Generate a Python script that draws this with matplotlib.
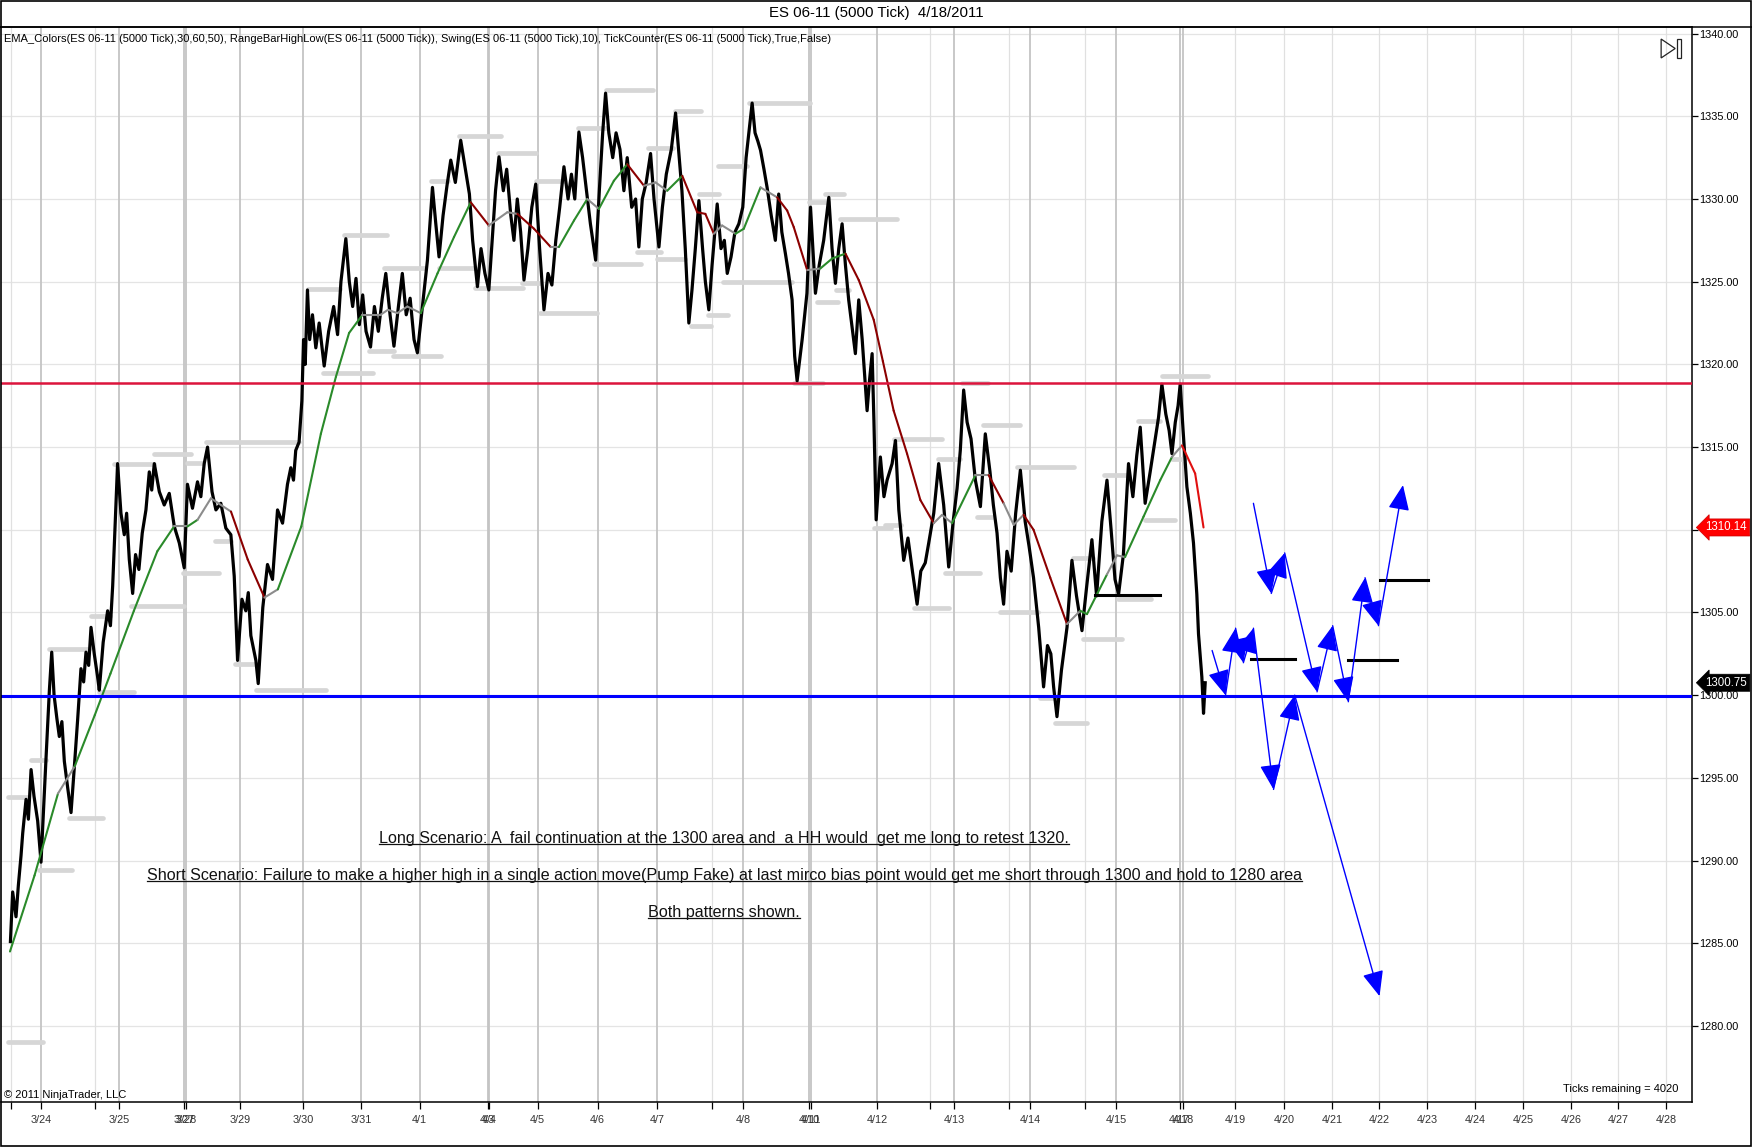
import matplotlib
matplotlib.use('Agg')
import matplotlib.pyplot as plt
from matplotlib.lines import Line2D
from matplotlib.patches import Polygon, Rectangle

plt.rcParams['font.family'] = ['Liberation Sans', 'DejaVu Sans']

# ---- price path (tick chart) ----
price_x = [8.4, 10.4, 13.4, 15.5, 17.9, 19.4, 22.4, 24.5, 26.9, 29.5, 32.8, 35.8, 38.0, 40.3, 43.3, 45.4,
           47.5, 50.0, 52.2, 54.5, 56.7, 59.7, 62.7, 65.6, 68.6, 71.6, 74.0, 76.1, 78.5, 80.6, 83.5, 86.5,
           88.0, 91.5, 95.5, 98.0, 100.0, 103.0, 104.4, 107.4, 110.4, 112.5, 114.9, 117.9, 120.5, 123.5,
           126.5, 129.8, 132.8, 135.0, 137.3, 141.8, 146.2, 150.7, 155.2, 159.7, 164.1, 167.0, 171.5,
           176.0, 179.0, 182.0, 185.0, 189.0, 192.5, 196.9, 201.4, 205.9, 208.9, 211.9, 215.8, 219.3,
           221.5, 223.8, 228.3, 230.4, 234.5, 238.7, 243.2, 247.7, 252.2, 256.6, 259.6, 262.0, 264.0,
           267.0, 269.5, 271.0, 272.5, 274.5, 276.5, 279.0, 282.0, 285.0, 289.5, 293.5, 298.0, 301.5,
           304.5, 308.9, 312.0, 315.0, 318.0, 321.0, 324.0, 327.0, 331.0, 334.5, 338.0, 341.5, 344.7,
           348.5, 352.0, 356.0, 359.5, 363.0, 366.5, 370.0, 373.0, 377.5, 382.0, 386.5, 389.5, 392.4,
           396.0, 399.5, 402.9, 407.0, 411.8, 415.5, 419.6, 422.5, 426.8, 430.0, 433.5, 437.0, 440.5,
           443.0, 446.1, 450.0, 453.0, 456.7, 459.5, 462.5, 465.5, 468.5, 472.0, 475.5, 479.0, 482.5,
           486.4, 490.0, 493.5, 497.0, 500.5, 504.3, 508.0, 511.0, 514.0, 517.7, 521.0, 524.5, 528.0,
           532.7, 536.0, 539.0, 541.6, 544.5, 548.0, 551.0, 554.5, 558.0, 561.0, 565.0, 568.5, 571.4,
           574.5, 578.0, 581.9, 585.0, 589.4, 592.5, 596.0, 600.5, 604.3, 607.0, 610.0, 613.0, 616.2,
           619.0, 622.0, 625.2, 628.5, 631.0, 634.1, 637.0, 641.6, 645.0, 648.0, 650.6, 654.0, 657.5,
           661.0, 664.5, 667.5, 670.0, 672.9, 675.5, 678.0, 680.4, 683.5, 686.3, 690.0, 693.7, 696.7,
           699.5, 702.7, 705.5, 708.7, 711.0, 713.2, 717.7, 722.0, 725.2, 729.6, 733.0, 737.0, 741.6,
           744.5, 747.5, 750.5, 753.5, 756.5, 759.4, 762.4, 765.4, 768.4, 771.5, 775.9, 778.0, 780.4,
           782.0, 784.0, 787.8, 791.0, 793.8, 798.3, 801.3, 804.3, 808.7, 812.5, 816.5, 820.7, 824.0,
           828.0, 831.1, 835.6, 840.0, 844.5, 849.0, 853.0, 856.5, 859.4, 862.4, 865.5, 869.0, 872.9,
           877.4, 881.8, 886.0, 889.0, 892.3, 895.3, 898.2, 901.2, 905.0, 909.0, 913.2, 917.5, 921.0,
           925.0, 929.6, 934.0, 937.5, 940.5, 943.0, 946.0, 950.0, 955.0, 959.4, 963.5, 968.4, 972.5,
           977.3, 981.5, 986.2, 990.8, 994.5, 998.0, 1001.2, 1005.5, 1010.1, 1014.0, 1017.5, 1020.6,
           1025.0, 1029.5, 1034.0, 1037.0, 1040.0, 1043.5, 1046.5, 1049.0, 1052.0, 1054.5, 1056.4,
           1059.0, 1062.4, 1065.5, 1068.3, 1071.3, 1072.8, 1075.8, 1077.3, 1078.8]
price_y = [1285.1, 1288.1, 1286.6, 1288.5, 1290.3, 1291.65, 1293.7, 1292.5, 1295.5, 1293.9, 1292.4, 1289.9,
           1293.0, 1296.2, 1300.3, 1302.6, 1300.0, 1298.6, 1297.5, 1298.4, 1296.0, 1294.4, 1292.9, 1295.6,
           1298.5, 1301.6, 1300.8, 1302.6, 1301.8, 1304.1, 1302.5, 1301.1, 1300.3, 1303.2, 1305.1, 1304.2,
           1306.6, 1311.7, 1314.0, 1311.0, 1309.7, 1311.0, 1308.2, 1306.15, 1308.5, 1307.6, 1309.8, 1311.2,
           1313.5, 1312.4, 1314.0, 1312.3, 1311.5, 1312.2, 1310.2, 1309.2, 1307.7, 1312.75, 1311.3, 1312.9,
           1312.0, 1314.0, 1315.0, 1312.3, 1311.2, 1311.6, 1310.1, 1309.7, 1307.2, 1302.1, 1305.8, 1305.1,
           1306.2, 1303.6, 1302.1, 1300.7, 1305.3, 1307.9, 1307.0, 1311.2, 1310.4, 1312.75, 1313.75, 1313.0,
           1314.8, 1315.3, 1317.8, 1321.5, 1320.0, 1324.5, 1321.5, 1323.0, 1321.0, 1322.5, 1319.9, 1322.0,
           1323.5, 1321.8, 1325.0, 1327.6, 1325.0, 1323.5, 1325.2, 1322.4, 1324.2, 1322.0, 1321.05, 1323.5,
           1322.0, 1324.0, 1325.5, 1323.0, 1321.1, 1323.5, 1325.5, 1323.0, 1324.0, 1321.5, 1320.7, 1323.5,
           1326.3, 1330.7, 1328.5, 1326.5, 1329.0, 1330.8, 1332.35, 1331.0, 1333.55, 1332.0, 1330.3, 1327.5,
           1324.7, 1327.0, 1325.5, 1324.5, 1328.0, 1330.5, 1332.55, 1330.5, 1331.8, 1329.0, 1327.5, 1330.0,
           1328.0, 1325.1, 1327.0, 1329.5, 1330.9, 1327.0, 1323.3, 1325.5, 1324.8, 1327.5, 1329.5, 1331.95,
           1330.0, 1331.5, 1330.0, 1334.05, 1332.5, 1330.5, 1328.5, 1326.3, 1330.5, 1334.0, 1336.4, 1334.0,
           1332.5, 1334.0, 1333.0, 1330.5, 1332.5, 1329.5, 1330.0, 1327.1, 1330.0, 1331.0, 1332.75, 1330.0,
           1327.1, 1329.5, 1331.5, 1333.0, 1335.2, 1333.0, 1330.5, 1327.0, 1322.5, 1324.5, 1327.0, 1329.9,
           1327.0, 1325.0, 1323.3, 1326.0, 1329.7, 1327.0, 1327.5, 1325.5, 1326.5, 1328.0, 1328.5, 1329.5,
           1332.5, 1334.0, 1335.8, 1334.0, 1333.5, 1332.95, 1331.8, 1330.7, 1329.0, 1327.5, 1330.3, 1328.0,
           1326.7, 1325.5, 1323.9, 1320.5, 1319.0, 1321.5, 1324.3, 1329.5, 1324.3, 1326.0, 1327.5, 1330.1,
           1327.0, 1324.9, 1327.0, 1328.5, 1326.0, 1323.9, 1322.3, 1320.65, 1323.9, 1321.5, 1317.2, 1319.0,
           1320.65, 1316.6, 1310.6, 1314.4, 1312.0, 1313.0, 1314.0, 1315.4, 1311.2, 1308.15, 1309.5, 1307.5,
           1305.5, 1307.5, 1308.0, 1309.2, 1311.0, 1314.0, 1311.5, 1307.75, 1310.5, 1312.5, 1314.8, 1318.45,
           1316.5, 1315.5, 1313.0, 1311.4, 1315.8, 1313.5, 1311.5, 1309.8, 1307.1, 1305.5, 1308.7, 1307.5,
           1311.0, 1313.6, 1310.5, 1309.0, 1307.1, 1304.1, 1300.5, 1303.0, 1302.5, 1300.5, 1298.7, 1301.5,
           1304.1, 1308.15, 1306.0, 1303.9, 1306.5, 1309.4, 1306.0, 1310.5, 1313.0, 1310.0, 1307.0, 1306.1,
           1308.5, 1314.0, 1312.0, 1314.5, 1316.2, 1311.6, 1313.5, 1315.5, 1316.8, 1318.8, 1317.0, 1316.0,
           1314.6, 1316.5, 1317.5, 1318.8, 1316.0, 1312.6, 1311.0, 1309.2, 1306.1, 1303.7, 1301.1, 1298.9,
           1300.75]

# ---- EMA_Colors line: G rising, R falling, N neutral (gray), B last bright red ----
ema_x = [8, 30, 51, 66, 84, 98, 119, 140, 155, 167, 176, 188, 206, 221, 236, 248, 269, 286.5, 300, 311.8,
         323.8, 340, 346.6, 355, 364, 376, 391, 405.8, 420.8, 437, 453.6, 462.6, 477.5, 492.4, 499.8, 513.3,
         525.2, 535.6, 549, 561, 576, 586.4, 596.8, 610.3, 623.7, 631, 638.6, 646, 658, 665.4, 680.4,
         695.3, 704.3, 710.2, 722.2, 734, 744.6, 756.5, 768.4, 781.8, 790, 799.7, 811.7, 823.6, 835.6,
         843, 852, 872.9, 884.8, 898.2, 907.2, 916.1, 925, 940, 955, 966.9, 972.9, 990.8, 999.7, 1007,
         1023.6, 1038.5, 1049, 1058, 1069.8, 1077.3]
ema_y = [1284.5, 1289.1, 1294.05, 1295.7, 1298.8, 1301.3, 1305.1, 1308.7, 1310.2, 1310.2, 1310.6, 1311.9,
         1311.1, 1308.2, 1305.9, 1306.4, 1310.2, 1315.8, 1319.25, 1321.9, 1323.0, 1323.0, 1323.3, 1323.1,
         1323.5, 1323.1, 1325.5, 1327.7, 1329.8, 1328.4, 1329.2, 1329.1, 1328.2, 1327.1, 1327.1, 1328.7,
         1330.0, 1329.4, 1331.1, 1332.1, 1330.8, 1331.0, 1330.5, 1331.4, 1329.2, 1329.1, 1327.9, 1328.4,
         1327.9, 1328.2, 1330.7, 1330.1, 1329.3, 1328.3, 1325.7, 1325.8, 1326.4, 1326.7, 1325.1, 1322.7,
         1320.2, 1317.2, 1314.6, 1311.8, 1310.4, 1310.9, 1310.4, 1313.3, 1313.3, 1311.6, 1310.3, 1310.9,
         1310.0, 1307.1, 1304.3, 1305.1, 1304.9, 1307.3, 1308.45, 1308.35, 1310.8, 1313.0, 1314.4, 1315.1,
         1313.4, 1310.14]
ema_c = ['G', 'G', 'N', 'G', 'G', 'G', 'G', 'G', 'N', 'G', 'N', 'N', 'R', 'R', 'N', 'G', 'G', 'G', 'G', 'G',
         'N', 'N', 'N', 'N', 'N', 'G', 'G', 'G', 'R', 'N', 'N', 'R', 'R', 'N', 'G', 'G',
         'N', 'G', 'G', 'R', 'N', 'N', 'G', 'R', 'R', 'R', 'N', 'N', 'G', 'G', 'N',
         'R', 'R', 'R', 'N', 'G', 'G', 'R', 'R', 'R', 'R', 'R', 'R', 'R', 'N',
         'N', 'G', 'N', 'R', 'N', 'N', 'R', 'R', 'R', 'N', 'G', 'G', 'N', 'N', 'G',
         'G', 'G', 'N', 'B', 'B']
ema_palette = {'G': '#2a8a2a', 'R': '#8b0000', 'N': '#8c8c8c', 'B': '#e01010'}

# ---- RangeBarHighLow / swing levels (x start, x end, price) ----
swing_x0 = [6, 27, 34, 6, 43, 61, 81, 88, 101, 116, 137, 163, 167, 184, 192, 210, 228,
            275, 288, 307, 330, 343, 351, 385, 392, 410, 425, 445, 467, 479, 483, 517, 531, 542, 570, 580,
            588, 604, 618, 625, 633, 642, 647, 670, 724, 738, 752, 731, 748, 710, 861,
            782, 792, 800, 818, 839, 846, 874, 880, 895, 910, 931, 944, 960, 969, 988, 1001, 1019, 1025,
            1040, 1049]
swing_x1 = [24, 40, 64, 38, 79, 91, 98, 119, 137, 164, 170, 195, 181, 267, 206, 230, 291,
            304, 333, 346, 352, 380, 394, 400, 425, 448, 468, 479, 483, 504, 534, 542, 573, 584, 591, 602,
            613, 627, 636, 643, 651, 668, 709, 725, 741, 755, 803, 750, 760, 736, 884,
            797, 806, 843, 849, 859, 877, 889, 913, 929, 961, 946, 973, 978, 1004, 1010, 1030, 1038, 1052,
            1081, 1061]
swing_p = [1293.85, 1296.1, 1289.4, 1279.05, 1302.8, 1292.6, 1304.8, 1300.2, 1314.0, 1305.4, 1314.6,
           1307.4, 1314.05, 1315.3, 1309.3, 1301.9, 1300.3,
           1324.55, 1319.5, 1327.8, 1320.8, 1325.8, 1320.5, 1331.1, 1325.8, 1333.8, 1324.6, 1332.8, 1324.9,
           1331.1, 1323.1, 1334.3, 1326.1, 1336.6, 1326.8, 1333.1, 1326.35, 1335.3, 1322.3, 1330.3, 1323.0,
           1332.0, 1325.0, 1335.8, 1329.8, 1330.3, 1328.8, 1323.8, 1324.5, 1318.9, 1318.85,
           1310.1, 1310.3, 1315.5, 1305.3, 1314.3, 1307.4, 1310.8, 1316.35, 1305.0, 1313.8, 1299.8, 1298.3,
           1308.3, 1303.4, 1313.3, 1305.8, 1316.55, 1310.6, 1319.3, 1314.3]

# black drawn levels
level_x0 = [980, 1120, 1207, 1235]
level_x1 = [1038, 1159, 1251, 1278]
level_p = [1306.05, 1302.2, 1302.15, 1306.96]

# projected scenarios (blue arrows)
long_x = [1122, 1138, 1150, 1179, 1193, 1207, 1222, 1234, 1256]
long_p = [1311.6, 1306.15, 1308.6, 1300.2, 1304.2, 1299.6, 1307.1, 1304.2, 1312.7]
short_x = [1085, 1097, 1106, 1113, 1122, 1140, 1159, 1235]
short_p = [1302.7, 1300.0, 1304.05, 1301.96, 1304.05, 1294.3, 1300.0, 1281.8]

resistance = 1318.85
support = 1299.95
ema_last = 1310.14
last_price = 1300.75

tick_x = [9, 35.8, 84, 105.6, 163.8, 165.6, 214, 270.4, 322.7, 375, 436, 437, 480.8, 534.5, 588, 636.5,
          665, 724, 726, 785, 832.6, 854, 903, 922, 971, 999, 1056, 1059, 1105.6, 1149.5, 1192.5, 1234.5,
          1277.5, 1320.5, 1363.5, 1406.4, 1448.5, 1491.5]
tick_lab = ['', '3/24', '', '3/25', '3/27', '3/28', '3/29', '3/30', '3/31', '4/1', '4/3', '4/4', '4/5',
            '4/6', '4/7', '', '4/8', '4/10', '4/11', '4/12', '', '4/13', '', '4/14', '', '4/15', '4/17',
            '4/18', '4/19', '4/20', '4/21', '4/22', '4/23', '4/24', '4/25', '4/26', '4/27', '4/28']
price_ticks = [1280, 1285, 1290, 1295, 1300, 1305, 1310, 1315, 1320, 1325, 1330, 1335, 1340]

notes = ['Long Scenario: A  fail continuation at the 1300 area and  a HH would  get me long to retest 1320.',
         'Short Scenario: Failure to make a higher high in a single action move(Pump Fake) at last mirco '
         'bias point would get me short through 1300 and hold to 1280 area',
         'Both patterns shown.']
notes_p = [1291.35, 1289.1, 1286.85]

fig = plt.figure(figsize=(17.52, 11.47), dpi=100)
ax = fig.add_axes([0.0006, 0.03923, 0.9652, 0.93723])
ax.set_xlim(0, 1515)
ax.set_ylim(1275.4, 1340.4)

# grid
for p in price_ticks:
    ax.axhline(p, color='#e4e4e4', lw=0.9, zorder=0)
future = tick_lab.index('4/19')
for i, (x, lab) in enumerate(zip(tick_x, tick_lab)):
    if lab == '' or i >= future:
        ax.axvline(x, color='#e0e0e0', lw=0.9, zorder=0)
    else:
        ax.axvline(x, color='#c4c4c4', lw=1.3, zorder=0)

# swing levels
for a, b, p in zip(swing_x0, swing_x1, swing_p):
    ax.plot([a, b], [p, p], color='#d6d6d6', lw=3.4, solid_capstyle='round', zorder=1)

# price
ax.plot(price_x, price_y, color='black', lw=2.3, zorder=3)

# EMA
for i in range(len(ema_x) - 1):
    ax.plot(ema_x[i:i + 2], ema_y[i:i + 2], color=ema_palette[ema_c[i]], lw=1.5,
            solid_capstyle='round', zorder=4)

# horizontal lines
ax.axhline(resistance, color='#dc143c', lw=1.8, zorder=5)
ax.axhline(support, color='#0000ff', lw=2.2, zorder=5)

for a, b, p in zip(level_x0, level_x1, level_p):
    ax.plot([a, b], [p, p], color='black', lw=2.2, zorder=5)

# arrows
for xs, ps in [(long_x, long_p), (short_x, short_p)]:
    for i in range(len(xs) - 1):
        ax.annotate('', xy=(xs[i + 1], ps[i + 1]), xytext=(xs[i], ps[i]),
                    arrowprops=dict(arrowstyle='-|>,head_length=1.3,head_width=0.55', color='#0000ff',
                                    lw=1.0, shrinkA=0, shrinkB=0, mutation_scale=12), zorder=6)

# notes
note_txt = []
for s, p in zip(notes, notes_p):
    note_txt.append(ax.text(648, p, s, ha='center', va='center', fontsize=11.6, color='#111111', zorder=7))

# axes styling
ax.spines['left'].set_visible(False)
for side in ['top', 'right', 'bottom']:
    ax.spines[side].set_linewidth(1.1)
ax.yaxis.tick_right()
ax.set_yticks(price_ticks)
# the 1310 label sits under the EMA price flag, so it is left blank
ax.set_yticklabels(['' if abs(p - ema_last) < 1 else '%.2f' % p for p in price_ticks])
ax.tick_params(axis='y', direction='out', length=4, width=0.9, labelsize=7.8, pad=1, colors='black')
ax.set_xticks(tick_x)
ax.set_xticklabels(tick_lab)
ax.tick_params(axis='x', direction='out', length=5, width=0.9, labelsize=7.8, pad=4, labelcolor='#333333')

# header / footer texts
fig.text(0.5, 0.9883, 'ES 06-11 (5000 Tick)  4/18/2011', ha='center', va='center', fontsize=10.8)
ax.text(0.002, 0.9888, 'EMA_Colors(ES 06-11 (5000 Tick),30,60,50), RangeBarHighLow(ES 06-11 (5000 Tick)), '
        'Swing(ES 06-11 (5000 Tick),10), TickCounter(ES 06-11 (5000 Tick),True,False)',
        transform=ax.transAxes, ha='left', va='center', fontsize=8.0)
ax.text(0.002, 0.0065, '\u00a9 2011 NinjaTrader, LLC', transform=ax.transAxes, ha='left', va='center',
        fontsize=8.0)
ax.text(0.992, 0.012, 'Ticks remaining = 4020', transform=ax.transAxes, ha='right', va='center',
        fontsize=8.0)

# price flags on the axis
ax.text(1.008, ema_last, '%.2f' % ema_last, transform=ax.get_yaxis_transform(), ha='left', va='center',
        fontsize=8.3, color='white', clip_on=False, zorder=10,
        bbox=dict(boxstyle='larrow,pad=0.22', fc='#ff0000', ec='#cc0000', lw=0.5))
ax.text(1.008, last_price, '%.2f' % last_price, transform=ax.get_yaxis_transform(), ha='left',
        va='center', fontsize=8.3, color='white', clip_on=False, zorder=10,
        bbox=dict(boxstyle='larrow,pad=0.22', fc='black', ec='black', lw=0.5))

# play-to-end icon
ax.add_patch(Polygon([(0.9817, 0.9888), (0.9817, 0.9712), (0.9900, 0.9800)], closed=True, fill=False,
                     ec='#222222', lw=0.9, transform=ax.transAxes, clip_on=False))
ax.add_patch(Rectangle((0.9911, 0.9712), 0.0024, 0.0176, fill=False, ec='#222222', lw=0.9,
                       transform=ax.transAxes, clip_on=False))

# frame: top line over full width and outer border
top = 0.03923 + 0.93723
fig.add_artist(Line2D([0, 1], [top, top], transform=fig.transFigure, color='black', lw=1.1))
fig.add_artist(Rectangle((0.0004, 0.0006), 0.9992, 0.9988, transform=fig.transFigure, fill=False,
                         ec='black', lw=1.2))

# underline the notes
fig.canvas.draw()
r = fig.canvas.get_renderer()
inv = fig.transFigure.inverted()
for t in note_txt:
    bb = t.get_window_extent(r)
    (x0, y0), (x1, _) = inv.transform([(bb.x0, bb.y0 + 2), (bb.x1, bb.y0 + 2)])
    fig.add_artist(Line2D([x0, x1], [y0, y0], transform=fig.transFigure, color='#111111', lw=0.9))

fig.savefig('out.png', dpi=100)
